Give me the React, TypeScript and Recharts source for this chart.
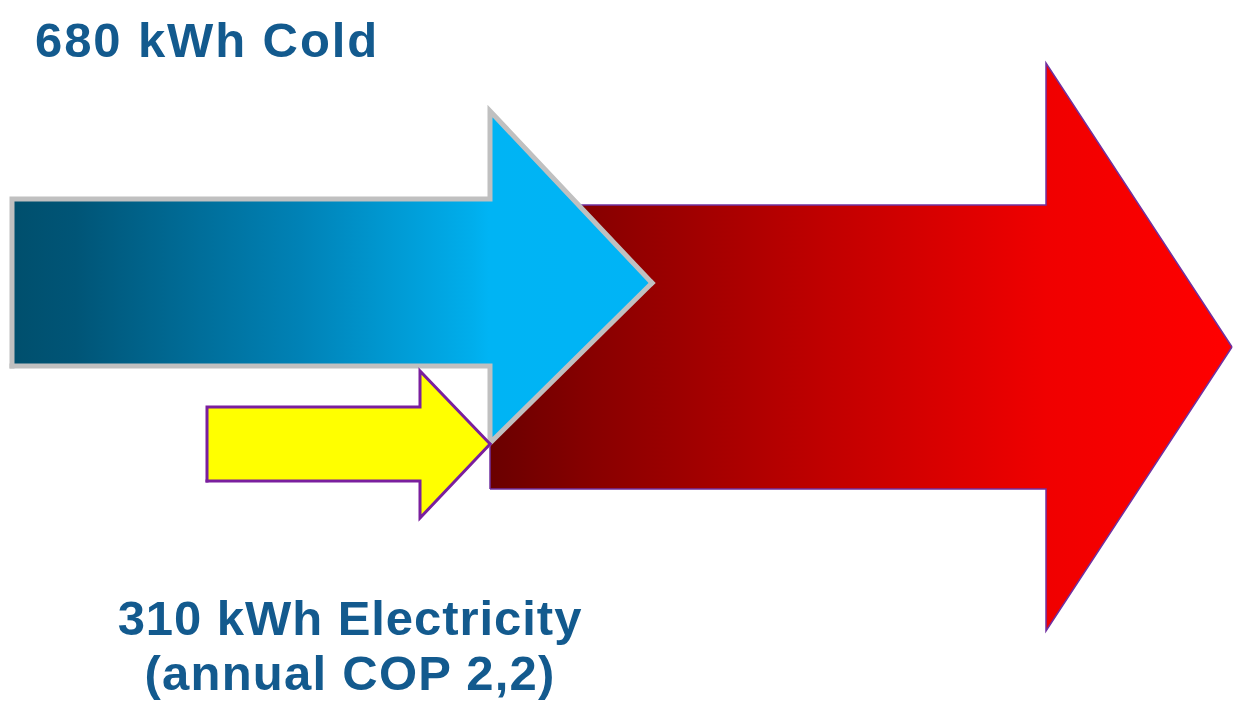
import React from 'react';
import { ComposedChart, Area, XAxis, YAxis } from 'recharts';

// Canvas the diagram is measured in (x to the right, y downward)
const canvasX = [0, 1236];
const canvasY = [0, 715];

// Arrow geometry, one entry per flow: Cold, Electricity, Heat
const flowNames = ['Cold', 'Electricity', 'Heat'];
const tailX = [12, 207, 490];
const headX = [490, 420, 1046];
const tipX = [652, 490, 1232];
const shaftTop = [199, 407, 205];
const shaftBottom = [366, 481, 489];
const headTop = [111, 371, 63];
const headBottom = [443, 518, 631];
const tipY = [283, 444, 347];

// Labels
const coldLabel = '680 kWh Cold';
const elecLabel1 = '310 kWh Electricity';
const elecLabel2 = '(annual COP 2,2)';

const buildArrow = (i: number) => [
  { x: tailX[i], band: [shaftBottom[i], shaftBottom[i]] },
  { x: tailX[i], band: [shaftBottom[i], shaftTop[i]] },
  { x: headX[i], band: [shaftBottom[i], shaftTop[i]] },
  { x: headX[i], band: [headBottom[i], headTop[i]] },
  { x: tipX[i], band: [tipY[i], tipY[i]] },
];

const coldData = buildArrow(0);
const elecData = buildArrow(1);
const heatData = buildArrow(2);

const textColor = '#135a8e';
const font = '"Liberation Sans", Arial, sans-serif';

export default function App() {
  return (
    <div style={{ position: 'absolute', left: 0, top: 0, width: 1236, height: 715, background: '#ffffff' }}>
      <ComposedChart width={1236} height={715} margin={{ top: 0, right: 0, bottom: 0, left: 0 }}>
        <defs>
          <linearGradient id="gradCold" x1="0" y1="0" x2="1" y2="0">
            <stop offset="0" stopColor="#004f6d" />
            <stop offset="0.1" stopColor="#005577" />
            <stop offset="0.45" stopColor="#0082b6" />
            <stop offset="0.72" stopColor="#00aeec" />
            <stop offset="0.745" stopColor="#00b4f4" />
            <stop offset="1" stopColor="#00b4f6" />
          </linearGradient>
          <linearGradient id="gradHeat" x1="0" y1="0" x2="1" y2="0">
            <stop offset="0" stopColor="#6a0000" />
            <stop offset="0.15" stopColor="#8a0000" />
            <stop offset="0.45" stopColor="#c00000" />
            <stop offset="0.75" stopColor="#f00000" />
            <stop offset="1" stopColor="#ff0000" />
          </linearGradient>
        </defs>
        <XAxis type="number" dataKey="x" domain={canvasX} allowDataOverflow hide />
        <YAxis type="number" domain={canvasY} reversed allowDataOverflow hide />
        <Area
          name={flowNames[2]}
          data={heatData}
          dataKey="band"
          type="linear"
          fill="url(#gradHeat)"
          fillOpacity={1}
          stroke="#7030a0"
          strokeWidth={1.5}
          strokeLinejoin="miter"
          dot={false}
          activeDot={false}
          isAnimationActive={false}
        />
        <Area
          name={flowNames[0]}
          data={coldData}
          dataKey="band"
          type="linear"
          fill="url(#gradCold)"
          fillOpacity={1}
          stroke="#c0c0c0"
          strokeWidth={5}
          strokeLinejoin="miter"
          strokeLinecap="square"
          dot={false}
          activeDot={false}
          isAnimationActive={false}
        />
        <Area
          name={flowNames[1]}
          data={elecData}
          dataKey="band"
          type="linear"
          fill="#ffff00"
          fillOpacity={1}
          stroke="#7a1f9e"
          strokeWidth={3}
          strokeLinejoin="miter"
          strokeLinecap="square"
          dot={false}
          activeDot={false}
          isAnimationActive={false}
        />
      </ComposedChart>
      <svg width={1236} height={715} style={{ position: 'absolute', left: 0, top: 0, pointerEvents: 'none' }}>
        <text x={35} y={57} fontFamily={font} fontWeight="bold" fontSize={49} letterSpacing={1.9} fill={textColor}>
          {coldLabel}
        </text>
        <text x={350} y={635} textAnchor="middle" fontFamily={font} fontWeight="bold" fontSize={49} letterSpacing={0.95} fill={textColor}>
          {elecLabel1}
        </text>
        <text x={350} y={690} textAnchor="middle" fontFamily={font} fontWeight="bold" fontSize={49} letterSpacing={1.25} fill={textColor}>
          {elecLabel2}
        </text>
      </svg>
    </div>
  );
}
